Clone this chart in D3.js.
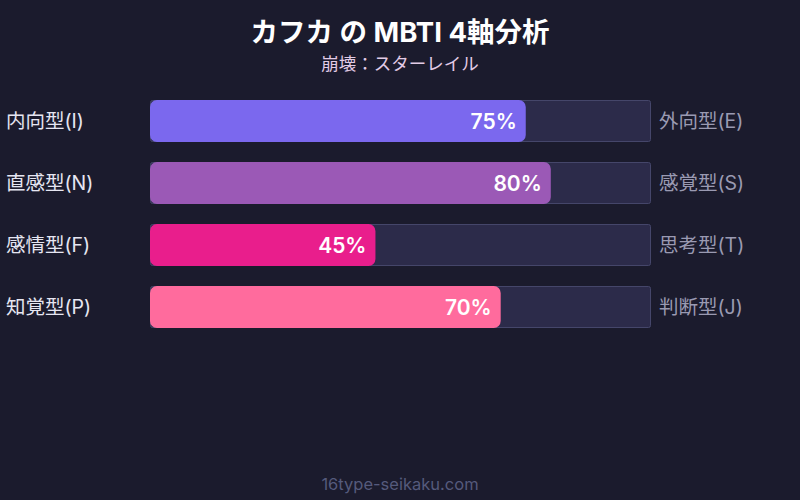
<!DOCTYPE html>
<html>
<head>
<meta charset="utf-8">
<script src="https://cdn.jsdelivr.net/npm/d3@7"></script>
<style>
  body { margin: 0; background: #1b1b2d; }
  text { font-family: Inter, "Noto Sans CJK JP", sans-serif; }
</style>
</head>
<body>
<div id="chart"></div>
<script>
// data
var leftLabels = ["内向型(I)", "直感型(N)", "感情型(F)", "知覚型(P)"];
var rightLabels = ["外向型(E)", "感覚型(S)", "思考型(T)", "判断型(J)"];
var values = [75, 80, 45, 70];
var colors = ["#7b68ee", "#9b59b6", "#e91e8c", "#ff6b9d"];

var w = 800, h = 500;

var svg = d3.select("#chart").append("svg")
    .attr("width", w)
    .attr("height", h)
    .style("background", "#1b1b2d")

svg.append("text").attr("x", w / 2).attr("y", 42)
    .attr("text-anchor", "middle").attr("fill", "#ffffff")
    .attr("font-size", 27.5).attr("font-weight", "bold")
    .text("カフカ の MBTI 4軸分析")

svg.append("text").attr("x", w / 2).attr("y", 70)
    .attr("text-anchor", "middle").attr("fill", "#e2cbe6")
    .attr("font-size", 17.5)
    .text("崩壊：スターレイル")

var x = d3.scaleLinear().domain([0, 100]).range([150, 651])
var y = d3.scaleBand().domain(d3.range(values.length)).range([100, 328]).paddingInner(20 / 62).paddingOuter(0)

var rows = svg.selectAll("g.row").data(values).enter().append("g").attr("class", "row")

rows.append("rect")
    .attr("x", x(0) + 0.5).attr("y", (d, i) => y(i) + 0.5)
    .attr("width", x(100) - x(0) - 1).attr("height", y.bandwidth() - 1)
    .attr("rx", 2)
    .attr("fill", "#2c2b4a").attr("stroke", "#45466a")

rows.append("rect")
    .attr("x", x(0)).attr("y", (d, i) => y(i))
    .attr("width", d => x(d) - x(0)).attr("height", y.bandwidth())
    .attr("rx", 7)
    .attr("fill", (d, i) => colors[i])

rows.append("text")
    .attr("x", d => x(d) - 9).attr("y", (d, i) => y(i) + y.bandwidth() / 2)
    .attr("dy", "0.36em").attr("text-anchor", "end")
    .attr("fill", "#ffffff").attr("font-size", 21).attr("font-weight", 600)
    .text(d => d + "%")

rows.append("text")
    .attr("x", 6).attr("y", (d, i) => y(i) + y.bandwidth() / 2)
    .attr("dy", "0.36em").attr("fill", "#e6e6f2").attr("font-size", 19.5)
    .text((d, i) => leftLabels[i])

rows.append("text")
    .attr("x", 659).attr("y", (d, i) => y(i) + y.bandwidth() / 2)
    .attr("dy", "0.36em").attr("fill", "#9a9ab2").attr("font-size", 19.5)
    .text((d, i) => rightLabels[i])

svg.append("text").attr("x", w / 2).attr("y", 490)
    .attr("text-anchor", "middle").attr("fill", "#555a7c")
    .attr("font-size", 16.5)
    .text("16type-seikaku.com")
</script>
</body>
</html>
